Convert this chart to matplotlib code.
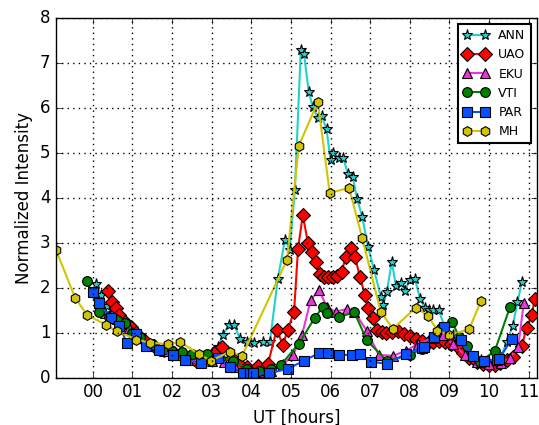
import matplotlib
matplotlib.use('Agg')
import matplotlib.pyplot as plt

# UT hours and normalized intensity for each station
ann_t = [0.08, 0.2, 0.35, 0.5, 0.65, 0.8, 0.95, 1.1, 1.3, 1.55, 1.8, 2.05, 2.3, 2.55, 2.8, 3.0, 3.16,
         3.28, 3.44, 3.57, 3.71, 3.9, 4.07, 4.29, 4.47, 4.67, 4.85, 4.97, 5.1, 5.25, 5.33, 5.45, 5.55,
         5.68, 5.78, 5.9, 6.0, 6.06, 6.21, 6.32, 6.44, 6.56, 6.67, 6.8, 6.95, 7.1, 7.27, 7.33, 7.42,
         7.55, 7.65, 7.78, 7.88, 8.0, 8.13, 8.26, 8.38, 8.48, 8.6, 8.73, 8.9, 9.1, 9.3, 9.5, 9.8,
         10.1, 10.3, 10.45, 10.6, 10.72, 10.83]
ann_v = [2.09, 1.85, 1.6, 1.45, 1.3, 1.15, 1.05, 0.95, 0.85, 0.72, 0.65, 0.55, 0.5, 0.45, 0.45, 0.55, 0.69,
         0.96, 1.18, 1.18, 0.87, 0.8, 0.78, 0.8, 0.8, 2.2, 3.07, 2.85, 4.18, 7.29, 7.2, 6.36, 6.02,
         5.78, 5.82, 5.52, 4.84, 5.0, 4.89, 4.89, 4.53, 4.47, 3.98, 3.58, 2.9, 2.4, 1.8, 1.62, 1.91,
         2.58, 2.04, 2.11, 1.93, 2.18, 2.2, 1.76, 1.56, 1.5, 1.5, 1.5, 1.1, 0.95, 0.75, 0.55, 0.4,
         0.35, 0.45, 0.8, 1.15, 1.68, 2.12]

uao_t = [0.38, 0.48, 0.58, 0.66, 0.8, 0.95, 1.1, 1.3, 1.55, 1.8, 2.05, 2.3, 2.55, 2.8, 3.05, 3.26,
         3.5, 3.7, 3.9, 4.17, 4.42, 4.64, 4.8, 4.92, 5.08, 5.18, 5.3, 5.43, 5.53, 5.63, 5.73, 5.84,
         5.94, 6.06, 6.16, 6.28, 6.39, 6.51, 6.62, 6.74, 6.87, 6.94, 7.07, 7.17, 7.3, 7.4, 7.55, 7.7,
         7.85, 8.0, 8.15, 8.3, 8.45, 8.6, 8.75, 8.9, 9.05, 9.2, 9.35, 9.5, 9.7, 9.85, 10.0, 10.15,
         10.28, 10.45, 10.6, 10.83, 10.95, 11.08, 11.16]
uao_v = [1.93, 1.69, 1.56, 1.4, 1.25, 1.12, 1.0, 0.85, 0.7, 0.62, 0.55, 0.48, 0.42, 0.45, 0.55, 0.69,
         0.45, 0.3, 0.25, 0.27, 0.31, 1.07, 0.73, 1.07, 1.47, 2.87, 3.62, 3.0, 2.8, 2.58, 2.31, 2.25,
         2.24, 2.24, 2.27, 2.36, 2.69, 2.89, 2.69, 2.25, 1.84, 1.55, 1.33, 1.07, 1.02, 1.0, 1.02, 1.05,
         0.98, 0.92, 0.86, 0.82, 0.78, 0.8, 0.82, 0.8, 0.75, 0.7, 0.55, 0.45, 0.35, 0.3, 0.28, 0.29,
         0.33, 0.4, 0.47, 0.71, 1.1, 1.4, 1.76]

eku_t = [0.3, 0.6, 0.9, 1.2, 1.5, 1.8, 2.1, 2.4, 2.7, 3.0, 3.3, 3.6, 3.9, 4.2, 4.5, 4.8, 5.05, 5.28,
         5.5, 5.71, 5.9, 6.13, 6.41, 6.6, 6.92, 7.22, 7.58, 7.9, 8.2, 8.58, 8.85, 9.1, 9.4, 9.7,
         10.0, 10.3, 10.53, 10.74, 10.88]
eku_v = [1.45, 1.3, 1.1, 0.9, 0.72, 0.6, 0.5, 0.4, 0.35, 0.38, 0.35, 0.25, 0.15, 0.12, 0.15, 0.3, 0.5, 0.95,
         1.73, 1.96, 1.58, 1.47, 1.53, 1.47, 1.04, 0.51, 0.49, 0.6, 0.75, 0.89, 0.95, 0.75, 0.5, 0.35,
         0.3, 0.32, 0.44, 0.69, 1.67]

vti_t = [-0.15, 0.15, 0.4, 0.6, 0.81, 1.0, 1.2, 1.5, 1.8, 2.0, 2.25, 2.5, 2.88, 3.2, 3.55, 3.9, 4.2,
         4.5, 4.75, 5.2, 5.6, 5.81, 5.92, 6.22, 6.6, 6.92, 7.42, 8.0, 8.3, 8.6, 8.8, 9.07, 9.25, 9.44,
         9.77, 10.15, 10.53]
vti_v = [2.16, 1.47, 1.35, 1.28, 1.21, 1.0, 0.9, 0.75, 0.65, 0.6, 0.58, 0.52, 0.53, 0.45, 0.38, 0.2, 0.15,
         0.2, 0.29, 0.76, 1.33, 1.58, 1.44, 1.35, 1.46, 0.83, 0.38, 0.5, 0.65, 0.9, 1.1, 1.25, 0.9, 0.7,
         0.35, 0.6, 1.57]

par_t = [0.0, 0.15, 0.45, 0.66, 0.86, 1.08, 1.33, 1.67, 2.02, 2.33, 2.73, 3.16, 3.46, 3.79, 3.96, 4.05,
         4.45, 4.92, 5.33, 5.71, 5.94, 6.21, 6.54, 6.74, 7.02, 7.42, 7.9, 8.3, 8.36, 8.61, 8.86, 9.29,
         9.6, 9.87, 10.2, 10.26, 10.58]
par_v = [1.91, 1.67, 1.33, 1.16, 0.78, 0.98, 0.71, 0.62, 0.51, 0.4, 0.33, 0.44, 0.24, 0.11, 0.1, 0.1,
         0.1, 0.2, 0.38, 0.55, 0.55, 0.51, 0.51, 0.53, 0.36, 0.31, 0.53, 0.67, 0.69, 0.91, 1.13, 0.83,
         0.49, 0.38, 0.4, 0.42, 0.87]

mh_t = [-0.93, -0.45, -0.15, 0.33, 0.6, 1.1, 1.45, 1.9, 2.2, 2.67, 2.98, 3.46, 3.77, 4.9, 5.2, 5.68,
        5.98, 6.47, 6.8, 7.27, 7.58, 8.15, 8.46, 8.7, 9.0, 9.5, 9.8]
mh_v = [2.84, 1.78, 1.4, 1.18, 1.04, 0.85, 0.78, 0.75, 0.8, 0.53, 0.38, 0.58, 0.49, 2.62, 5.16, 6.13,
        4.11, 4.22, 3.11, 1.46, 1.09, 1.56, 1.38, 1.05, 0.95, 1.08, 1.71]

hour_ticks = list(range(0, 12))
hour_labels = ['%02d' % h for h in hour_ticks]

plt.style.use('classic')
plt.rcParams['font.family'] = ['DejaVu Sans']

fig = plt.figure(figsize=(5.39, 4.25), dpi=100, facecolor='white')
ax = fig.add_axes([0.104, 0.111, 0.892, 0.847])

series = [
    ('ANN', ann_t, ann_v, '#22d0d0', '*', 8),
    ('UAO', uao_t, uao_v, '#ff0000', 'D', 7),
    ('EKU', eku_t, eku_v, '#ee33dd', '^', 7),
    ('VTI', vti_t, vti_v, '#008000', 'o', 7),
    ('PAR', par_t, par_v, '#0a4fff', 's', 7),
    ('MH', mh_t, mh_v, '#d2c400', 'h', 7),
]
for name, t, v, col, mk, ms in series:
    ax.plot(t, v, color=col, marker=mk, markersize=ms, markerfacecolor=col,
            markeredgecolor='black', markeredgewidth=0.8, linewidth=1.5, label=name)

ax.set_xlim(-0.93, 11.21)
ax.set_ylim(0, 8)
ax.set_xticks(hour_ticks)
ax.set_xticklabels(hour_labels)
ax.set_yticks(range(0, 9))
ax.tick_params(labelsize=12)
ax.grid(True, color='black', linestyle=':', linewidth=1)
ax.set_xlabel('UT [hours]', fontsize=12)
ax.set_ylabel('Normalized Intensity', fontsize=12)

leg = ax.legend(loc='upper right', numpoints=2, fontsize=9, borderaxespad=0.5)
leg.get_frame().set_linewidth(1.5)

fig.savefig('out.png', dpi=100, facecolor='white')
